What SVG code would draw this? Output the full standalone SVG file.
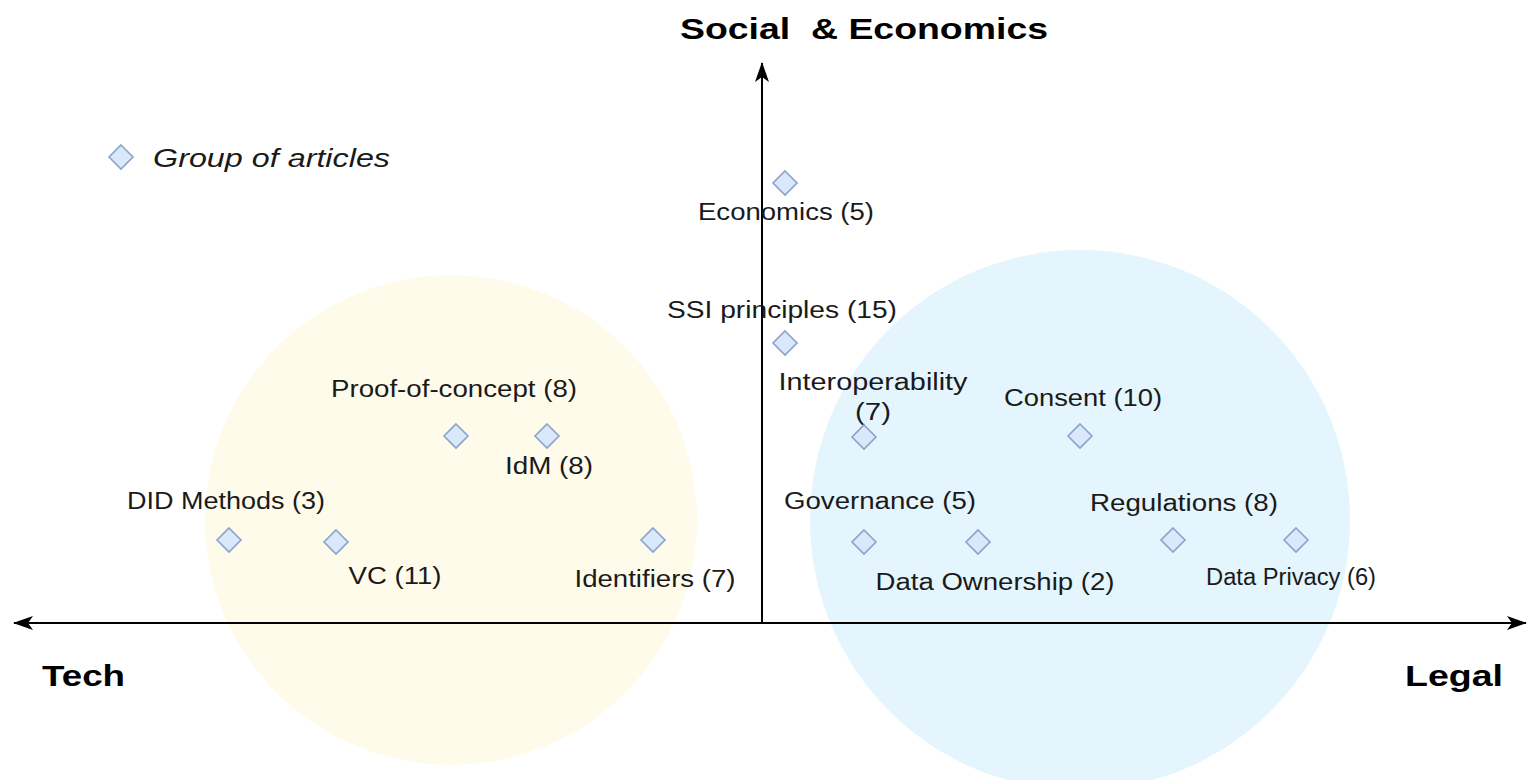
<svg xmlns="http://www.w3.org/2000/svg" width="1528" height="780" viewBox="0 0 1528 780">
  <defs>
    <style>
      .lbl { font-family: "Liberation Sans", Arial, sans-serif; font-size: 23px; fill: #1a1a1a; text-anchor: middle; }
      .axis-title { font-family: "Liberation Sans", Arial, sans-serif; font-size: 30px; font-weight: bold; fill: #000; }
      .legend { font-family: "Liberation Sans", Arial, sans-serif; font-size: 26px; font-style: italic; fill: #1a1a1a; }
      .dia { fill: #dae8fc; stroke: #8aa3c8; stroke-width: 1.6; }
      .axis { stroke: #000; stroke-width: 2; fill: none; }
    </style>
    <marker id="arrow" viewBox="0 0 20 14" refX="19" refY="7" markerWidth="20" markerHeight="14" markerUnits="userSpaceOnUse" orient="auto">
      <path d="M0,0 L20,7 L0,14 L5,7 Z" fill="#000"/>
    </marker>
    <path id="diamond" d="M0,-12 L12,0 L0,12 L-12,0 Z"/>
  </defs>

  <rect width="1528" height="780" fill="#ffffff"/>

  <!-- clusters -->
  <g id="tech-cluster">
    <ellipse cx="451" cy="520" rx="246" ry="245" fill="#fffbea"/>
  </g>
  <g id="legal-cluster">
    <ellipse cx="1080" cy="520" rx="270" ry="270" fill="#e4f5fd"/>
  </g>

  <!-- axes -->
  <g id="connectors">
    <line class="axis" x1="762" y1="623" x2="762" y2="63" marker-end="url(#arrow)"/>
    <line class="axis" x1="762" y1="623" x2="14" y2="623" marker-end="url(#arrow)"/>
    <line class="axis" x1="762" y1="623" x2="1526" y2="623" marker-end="url(#arrow)"/>
  </g>

  <!-- axis titles -->
  <g id="axis-social">
    <text class="axis-title" x="680" y="39" textLength="368" lengthAdjust="spacingAndGlyphs" xml:space="preserve">Social  &amp; Economics</text>
  </g>
  <g id="axis-tech">
    <text class="axis-title" x="42" y="686" textLength="83" lengthAdjust="spacingAndGlyphs">Tech</text>
  </g>
  <g id="axis-legal">
    <text class="axis-title" x="1405" y="686" textLength="98" lengthAdjust="spacingAndGlyphs">Legal</text>
  </g>

  <!-- legend -->
  <g id="legend">
    <use href="#diamond" class="dia" x="121" y="157"/>
    <text class="legend" x="153" y="167" textLength="237" lengthAdjust="spacingAndGlyphs">Group of articles</text>
  </g>

  <!-- topic groups -->
  <g id="economics">
    <use href="#diamond" class="dia" x="785" y="183"/>
    <text class="lbl" x="786" y="220" textLength="176" lengthAdjust="spacingAndGlyphs">Economics (5)</text>
  </g>
  <g id="ssi-principles">
    <text class="lbl" x="782" y="318" textLength="230" lengthAdjust="spacingAndGlyphs">SSI principles (15)</text>
    <use href="#diamond" class="dia" x="785" y="343"/>
  </g>
  <g id="proof-of-concept">
    <text class="lbl" x="454" y="397" textLength="246" lengthAdjust="spacingAndGlyphs">Proof-of-concept (8)</text>
    <use href="#diamond" class="dia" x="456" y="436"/>
  </g>
  <g id="idm">
    <use href="#diamond" class="dia" x="547" y="436"/>
    <text class="lbl" x="549" y="474" textLength="88" lengthAdjust="spacingAndGlyphs">IdM (8)</text>
  </g>
  <g id="did-methods">
    <text class="lbl" x="226" y="509" textLength="198" lengthAdjust="spacingAndGlyphs">DID Methods (3)</text>
    <use href="#diamond" class="dia" x="229" y="540"/>
  </g>
  <g id="vc">
    <use href="#diamond" class="dia" x="336" y="542"/>
    <text class="lbl" x="395" y="584" textLength="93" lengthAdjust="spacingAndGlyphs">VC (11)</text>
  </g>
  <g id="identifiers">
    <use href="#diamond" class="dia" x="653" y="540"/>
    <text class="lbl" x="655" y="587" textLength="161" lengthAdjust="spacingAndGlyphs">Identifiers (7)</text>
  </g>
  <g id="interoperability">
    <text class="lbl" x="873" y="390" textLength="189" lengthAdjust="spacingAndGlyphs">Interoperability</text>
    <text class="lbl" x="873" y="420" textLength="36" lengthAdjust="spacingAndGlyphs">(7)</text>
    <use href="#diamond" class="dia" x="864" y="437"/>
  </g>
  <g id="consent">
    <text class="lbl" x="1083" y="406" textLength="158" lengthAdjust="spacingAndGlyphs">Consent (10)</text>
    <use href="#diamond" class="dia" x="1080" y="436"/>
  </g>
  <g id="governance">
    <text class="lbl" x="880" y="509" textLength="192" lengthAdjust="spacingAndGlyphs">Governance (5)</text>
    <use href="#diamond" class="dia" x="864" y="542"/>
  </g>
  <g id="data-ownership">
    <use href="#diamond" class="dia" x="978" y="542"/>
    <text class="lbl" x="995" y="590" textLength="239" lengthAdjust="spacingAndGlyphs">Data Ownership (2)</text>
  </g>
  <g id="regulations">
    <text class="lbl" x="1184" y="511" textLength="188" lengthAdjust="spacingAndGlyphs">Regulations (8)</text>
    <use href="#diamond" class="dia" x="1173" y="540"/>
  </g>
  <g id="data-privacy">
    <use href="#diamond" class="dia" x="1296" y="540"/>
    <text class="lbl" x="1291" y="585" textLength="170" lengthAdjust="spacingAndGlyphs">Data Privacy (6)</text>
  </g>
</svg>
